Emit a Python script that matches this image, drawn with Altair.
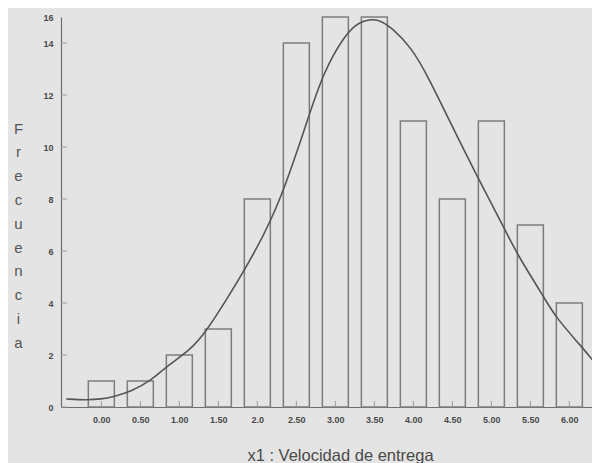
import altair as alt
import pandas as pd

# Histogram bins (centres) and frequencies
bin_centers = [0.0, 0.5, 1.0, 1.5, 2.0, 2.5, 3.0, 3.5, 4.0, 4.5, 5.0, 5.5, 6.0]
frequencies = [1, 1, 2, 3, 8, 14, 15, 15, 11, 8, 11, 7, 4]
x_tick_labels = ["0.00", "0.50", "1.00", "1.50", "2.0", "2.50", "3.00",
                 "3.50", "4.00", "4.50", "5.00", "5.50", "6.00"]
y_tick_values = [0, 2, 4, 6, 8, 10, 12, 14, 15]
y_tick_labels = ["0", "2", "4", "6", "8", "10", "12", "14", "16"]

# Fitted normal curve
curve_x = [-0.45, -0.2, 0.0, 0.16, 0.38, 0.65, 0.83, 1.14, 1.33, 1.58, 1.99,
           2.30, 2.64, 2.84, 3.14, 3.31, 3.43, 3.56, 3.72, 3.97, 4.19, 4.44,
           4.82, 5.16, 5.32, 5.66, 5.82, 6.16, 6.33]
curve_y = [0.31, 0.27, 0.30, 0.40, 0.59, 1.04, 1.55, 2.19, 2.85, 4.0, 6.04,
           7.96, 11.0, 12.85, 14.4, 14.8, 14.9, 14.9, 14.6, 13.85, 12.7, 11.15,
           8.85, 6.92, 5.92, 4.3, 3.46, 2.31, 1.69]

bars = pd.DataFrame({"center": bin_centers, "freq": frequencies})
curve = pd.DataFrame({"center": curve_x, "freq": curve_y})

BG = "#e4e4e4"
xscale = alt.Scale(domain=[-0.453, 6.226], nice=False, zero=False)
yscale = alt.Scale(domain=[0, 15], nice=False, zero=True)

x_label_expr = "[" + ",".join("'%s'" % s for s in x_tick_labels) + "][round(datum.value*2)]"
y_label_expr = "[" + ",".join("'%s'" % s for s in y_tick_labels) + \
    "][datum.value == 15 ? 8 : round(datum.value/2)]"

x_enc = alt.X("center:Q", scale=xscale, axis=alt.Axis(
    values=bin_centers, labelExpr=x_label_expr, ticks=False, grid=False,
    domainColor="#6e6e6e", domainWidth=1.2, labelPadding=8,
    labelFont="Liberation Sans", labelFontSize=9, labelFontWeight="bold",
    labelColor="#4a4a4a",
    title="x1 : Velocidad de entrega", titleFont="Liberation Sans",
    titleFontSize=16.5, titleFontWeight="normal", titleColor="#4a4a4a",
    titleX=279, titleY=48, titleBaseline="middle", titleAlign="center"))
y_enc = alt.Y("freq:Q", scale=yscale, axis=alt.Axis(
    values=y_tick_values, labelExpr=y_label_expr, ticks=False, grid=False,
    domainColor="#6e6e6e", domainWidth=1.2, labelPadding=8,
    labelFont="Liberation Sans", labelFontSize=9, labelFontWeight="bold",
    labelColor="#4a4a4a",
    title=list("Frecuencia"), titleAngle=0, titleFont="Liberation Sans",
    titleFontSize=15, titleFontWeight="normal", titleColor="#555555",
    titleX=-43, titleY=111, titleAlign="center", titleBaseline="middle",
    titleLineHeight=23.8))

bar_layer = alt.Chart(bars).mark_bar(
    size=26, fillOpacity=0, stroke="#7c7c7c", strokeWidth=1.5
).encode(x=x_enc, y=y_enc)

line_layer = alt.Chart(curve).mark_line(
    color="#555555", strokeWidth=1.6, interpolate="basis", clip=True
).encode(x=x_enc, y=y_enc)

ytick_df = pd.DataFrame({"freq": y_tick_values[:-1]})
ytick_layer = alt.Chart(ytick_df).mark_rule(color="#9a9a9a", strokeWidth=1).encode(
    y=y_enc, x=alt.value(0), x2=alt.value(6),
)

xtick_layer = alt.Chart(bars).mark_rule(color="#9a9a9a", strokeWidth=1).encode(
    x=x_enc, y=alt.value(390), y2=alt.value(384),
)

chart = alt.layer(bar_layer, xtick_layer, ytick_layer, line_layer).properties(
    width=531, height=390,
    padding={"left": 53, "top": 9, "right": 0, "bottom": 56},
    autosize=alt.AutoSizeParams(type="none"),
    background=BG,
).configure_view(stroke=None)

chart.save("out.html", embed_options={"renderer": "svg", "actions": False})
